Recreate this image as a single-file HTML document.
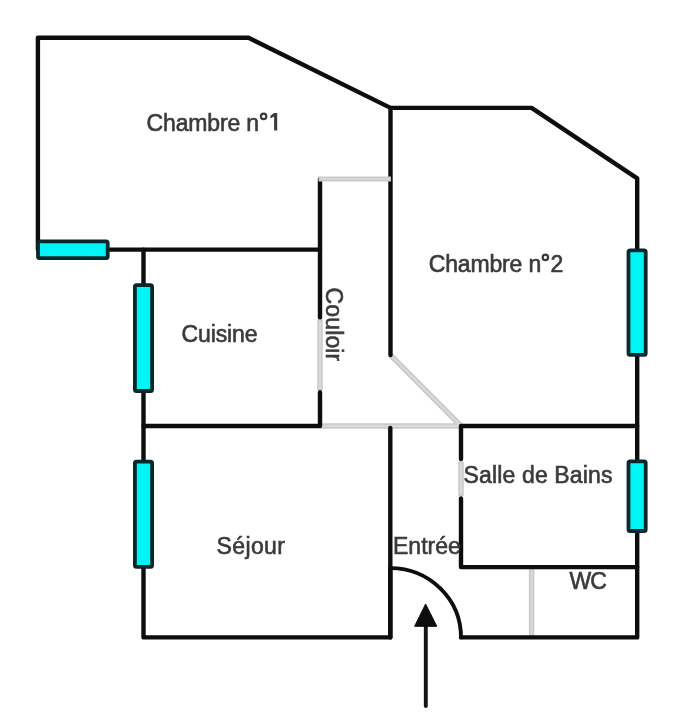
<!DOCTYPE html>
<html><head><meta charset="utf-8">
<style>
html,body{margin:0;padding:0;background:#fff;width:698px;height:720px;overflow:hidden}
svg{display:block;will-change:transform}
text{font-family:"Liberation Sans",sans-serif;font-size:23px;fill:#3a3a3a;stroke:#3a3a3a;stroke-width:0.6px}
</style></head><body>
<svg width="698" height="720" viewBox="0 0 698 720">
<g fill="none" stroke="#cbcbcb" stroke-width="5.5">
<path d="M320 319.5 V390.5"/>
<path d="M390.5 355 L461 426"/>
<path d="M320 426 H461"/>
<path d="M461 461.5 V496"/>
<path d="M531.6 567.1 V637.4"/>
</g>
<g fill="none" stroke="#dadada" stroke-width="2">
<path d="M320 321.5 V388.5"/>
<path d="M392 356.5 L459.5 424.5"/>
<path d="M322 426 H459"/>
<path d="M461 463.5 V494"/>
<path d="M531.6 569.5 V635"/>
</g>
<g fill="none" stroke="#0d0d0d" stroke-width="4.4" stroke-linejoin="round" stroke-linecap="round">
<path d="M37.9 249.6 V37.8 H248.6 L390.5 107.9 H531.6 L637.2 178.3 V637.4 H461"/>
<path d="M461 637.4 A70.6 69.3 0 0 0 390.4 568.1" stroke-width="3.9"/>
<path d="M390.3 567.4 V637.4 H143.5 V249.6"/>
<path d="M108 249.6 H320"/>
<path d="M320 179 V317.4"/>
<path d="M320 392.2 V426 H143.5"/>
<path d="M390.5 107.9 V355"/>
<path d="M390.3 428 V637.4"/>
<path d="M637.2 426 H461 V459"/>
<path d="M461 498.5 V567.1 H637.2"/>
</g>
<path d="M318.5 178.9 H391" fill="none" stroke="#cbcbcb" stroke-width="5"/>
<path d="M320.5 178.9 H389.5" fill="none" stroke="#d9d9d9" stroke-width="1.8"/>
<g fill="#00f6f6" stroke="#08282c" stroke-width="3.8">
<rect x="38" y="241.4" width="69.7" height="16.8" rx="1.6"/>
<rect x="134.9" y="285.1" width="17.2" height="105.9" rx="1.6"/>
<rect x="134.9" y="461.7" width="17.2" height="105.1" rx="1.6"/>
<rect x="628.5" y="250.4" width="17.2" height="104.5" rx="1.6"/>
<rect x="628.5" y="461.3" width="17.2" height="69.7" rx="1.6"/>
</g>
<path d="M425.8 626 V706" stroke="#151515" stroke-width="3.9" stroke-linecap="round"/>
<path d="M425.6 604 L414.6 626.3 H436.8 Z" fill="#0d0d0d" stroke="#0d0d0d" stroke-width="1" stroke-linejoin="round"/>
<text x="146.6" y="130.5" textLength="112.5" lengthAdjust="spacing">Chambre n</text>
<circle cx="263.6" cy="116.4" r="2.7" fill="none" stroke="#3a3a3a" stroke-width="2.2"/>
<path d="M274.1 113 H277.2 V130.6 H274.1 V116.5 L270.4 118.5 V115.7 Z" fill="#3a3a3a"/>
<text x="428.7" y="271.5" textLength="112.5" lengthAdjust="spacing">Chambre n</text>
<circle cx="545.4" cy="257.4" r="2.7" fill="none" stroke="#3a3a3a" stroke-width="2.2"/>
<text x="550.5" y="271.5">2</text>
<text x="181.5" y="342" textLength="76" lengthAdjust="spacing">Cuisine</text>
<text transform="translate(326 287.6) rotate(90)" textLength="73.7" lengthAdjust="spacing">Couloir</text>
<text x="216.5" y="553.7" textLength="68.4" lengthAdjust="spacing">Séjour</text>
<text x="393" y="553.7">Entrée</text>
<text x="463.6" y="483.2" textLength="148.8" lengthAdjust="spacing">Salle de Bains</text>
<text x="569.5" y="588.7" textLength="37.3" lengthAdjust="spacing">WC</text>
</svg>
</body></html>
